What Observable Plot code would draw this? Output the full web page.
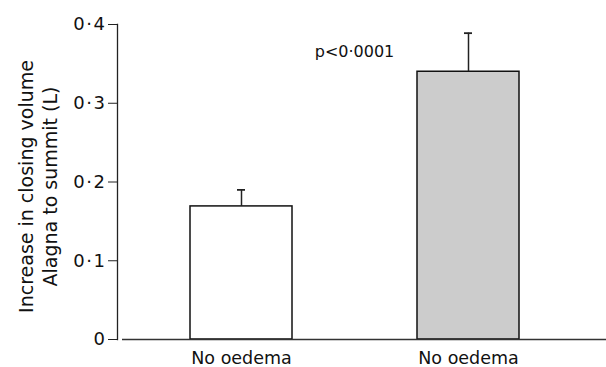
<!DOCTYPE html>
<html><head><meta charset="utf-8">
<script src="https://cdn.jsdelivr.net/npm/d3@7"></script>
<script src="https://cdn.jsdelivr.net/npm/@observablehq/plot@0.6"></script>
<style>
body{margin:0;background:#fff}
g[aria-label="y-axis tick label"] text{letter-spacing:1.5px}
g[aria-label="note"] text{letter-spacing:1px}
</style>
</head><body><div id="chart"></div>
<script>
// Data
const groups = ["group1", "group2"];
const groupLabels = ["No oedema", "No oedema"];
const values = [0.169, 0.340];
const upperErrors = [0.190, 0.389];
const barFills = ["#ffffff", "#cccccc"];
const yTicks = [0, 0.1, 0.2, 0.3, 0.4];
const yTitle = ["Increase in closing volume\nAlagna to summit (L)"];
const annotationText = ["p<0·0001"];
const annotationGroup = ["group2"];
const annotationY = [0.365];

const data = groups.map((g, i) => ({group: g, label: groupLabels[i], value: values[i], upper: upperErrors[i], fill: barFills[i]}));
const notes = annotationText.map((t, i) => ({text: t, group: annotationGroup[i], y: annotationY[i]}));
const labelOf = Object.fromEntries(groups.map((g, i) => [g, groupLabels[i]]));
const fmt = v => v === 0 ? "0" : d3.format(".1f")(v).replace(".", "·");

const chart = Plot.plot({
  width: 606,
  height: 367,
  marginLeft: 117,
  marginRight: 14,
  marginTop: 24,
  marginBottom: 28,
  style: {fontFamily: "DejaVu Sans", color: "#111", background: "#fff", overflow: "visible"},
  x: {domain: groups, paddingInner: 0.551, paddingOuter: 0.3216},
  y: {domain: [0, 0.4]},
  marks: [
    Plot.barY(data, {x: "group", y: "value", fill: "fill", stroke: "#111", strokeWidth: 1.5}),
    Plot.ruleX(data, {x: "group", y1: "value", y2: "upper", stroke: "#222", strokeWidth: 1.5}),
    Plot.tickY(data, {x: "group", y: "upper", insetLeft: 47, insetRight: 47, stroke: "#222", strokeWidth: 1.8}),
    Plot.ruleY([0], {insetLeft: 5, insetRight: -14, stroke: "#333", strokeWidth: 1.5}),
    Plot.frame({anchor: "left", stroke: "#222", strokeWidth: 1.3}),
    Plot.axisY({ticks: yTicks, tickSize: 9, tickPadding: 2, tickFormat: fmt, fontSize: 18, label: null, stroke: "#222"}),
    Plot.axisX({tickSize: 0, tickPadding: 12, tickFormat: g => labelOf[g], fontSize: 17.5, label: null}),
    Plot.text(yTitle, {frameAnchor: "left", textAnchor: "middle", text: d => d, rotate: -90, dx: -80, dy: 4.5, lineHeight: 1.26, fontSize: 19, fill: "#111"}),
    Plot.text(notes, {x: "group", y: "y", text: "text", dx: -114, fontSize: 16, fill: "#111", ariaLabel: "note"})
  ]
});
document.getElementById("chart").appendChild(chart);
</script>
</body></html>
